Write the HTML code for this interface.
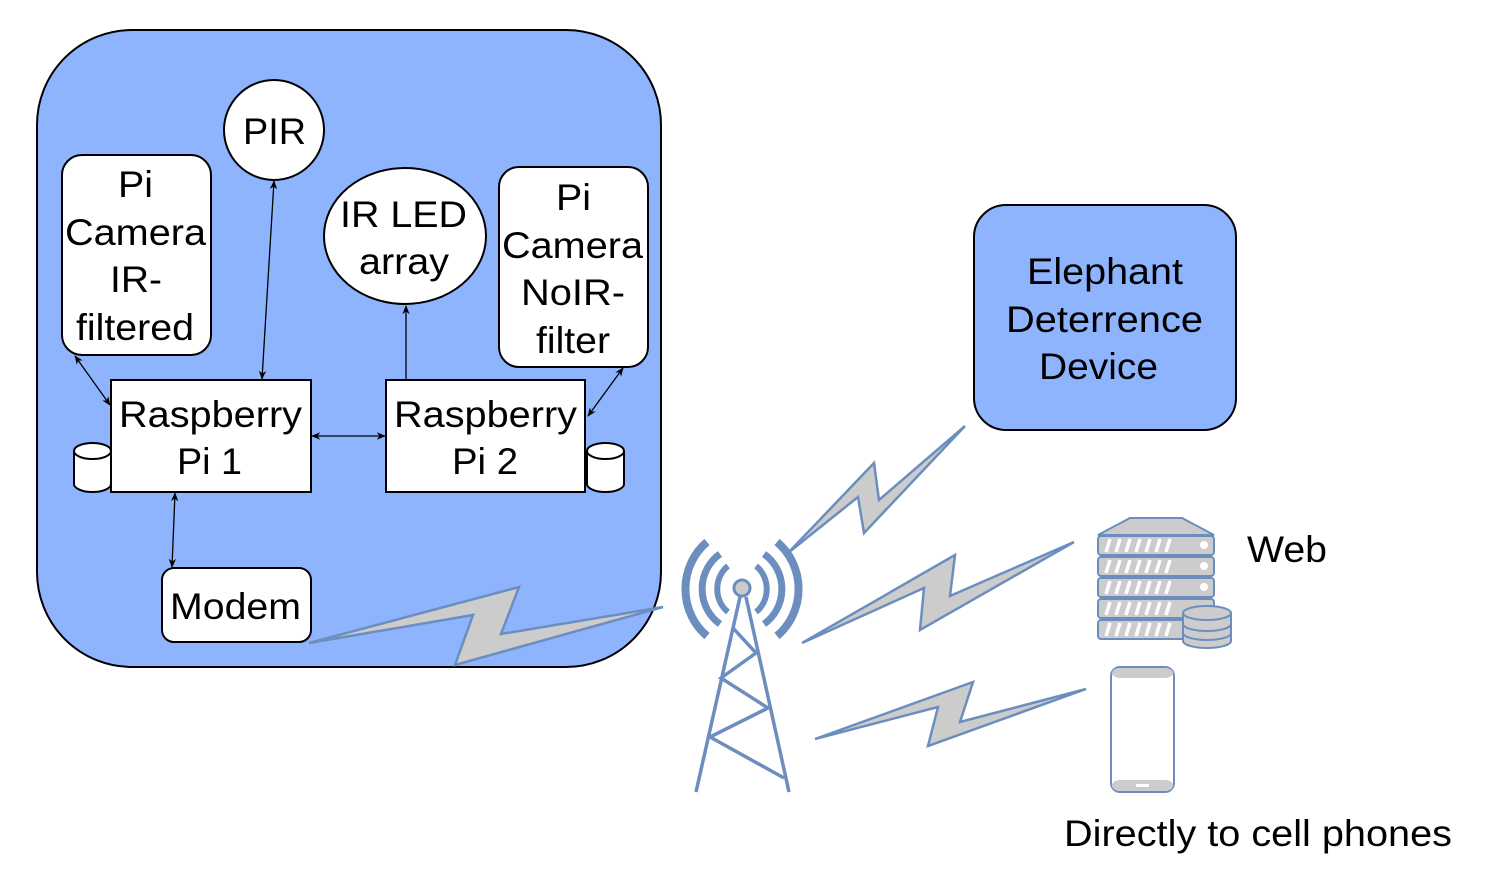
<!DOCTYPE html>
<html><head><meta charset="utf-8"><style>
html,body{margin:0;padding:0;background:#fff;}
svg{display:block;}
text{font-family:"Liberation Sans",Arial,sans-serif;fill:#000;}
</style></head><body>
<svg width="1486" height="890" viewBox="0 0 1486 890" xmlns="http://www.w3.org/2000/svg">
<defs>
<marker id="ar" viewBox="0 0 10 10" refX="9" refY="5" markerWidth="7" markerHeight="7" orient="auto-start-reverse">
<path d="M0,1 L10,5 L0,9 L3,5 Z" fill="#000"/>
</marker>
</defs>
<rect x="37" y="30" width="624" height="637" rx="95" fill="#8fb4fe" stroke="#000" stroke-width="2"/>

<g stroke="#000" stroke-width="1.3" fill="none">
<line x1="75" y1="356" x2="110" y2="405" marker-start="url(#ar)" marker-end="url(#ar)"/>
<line x1="274" y1="181" x2="262" y2="379" marker-start="url(#ar)" marker-end="url(#ar)"/>
<line x1="312" y1="436" x2="385" y2="436" marker-start="url(#ar)" marker-end="url(#ar)"/>
<line x1="406" y1="380" x2="406" y2="306" marker-end="url(#ar)"/>
<line x1="623" y1="368" x2="588" y2="416" marker-start="url(#ar)" marker-end="url(#ar)"/>
<line x1="175" y1="493" x2="172" y2="567" marker-start="url(#ar)" marker-end="url(#ar)"/>
</g>

<g stroke="#000" stroke-width="2" fill="#fff">
<circle cx="274" cy="130" r="50"/>
<rect x="62" y="155" width="149" height="200" rx="20"/>
<ellipse cx="405" cy="236" rx="81" ry="68"/>
<rect x="499" y="167" width="149" height="200" rx="20"/>
<rect x="111" y="380" width="200" height="112"/>
<rect x="386" y="380" width="199" height="112"/>
<rect x="162" y="568" width="149" height="74" rx="12"/>
<path d="M74,451 L74,484 A18.5,8 0 0 0 111,484 L111,451"/>
<ellipse cx="92.5" cy="451" rx="18.5" ry="8"/>
<path d="M587,451 L587,484 A18.5,8 0 0 0 624,484 L624,451"/>
<ellipse cx="605.5" cy="451" rx="18.5" ry="8"/>
</g>

<g font-size="37" lengthAdjust="spacingAndGlyphs">
<text x="243" y="144" textLength="63" lengthAdjust="spacingAndGlyphs">PIR</text>
<text x="118" y="197" textLength="35" lengthAdjust="spacingAndGlyphs">Pi</text>
<text x="65" y="245" textLength="141" lengthAdjust="spacingAndGlyphs">Camera</text>
<text x="110" y="292" textLength="52" lengthAdjust="spacingAndGlyphs">IR-</text>
<text x="76" y="340" textLength="118" lengthAdjust="spacingAndGlyphs">filtered</text>
<text x="340" y="227" textLength="127" lengthAdjust="spacingAndGlyphs">IR LED</text>
<text x="359" y="274" textLength="90" lengthAdjust="spacingAndGlyphs">array</text>
<text x="556" y="210" textLength="35" lengthAdjust="spacingAndGlyphs">Pi</text>
<text x="502" y="258" textLength="141" lengthAdjust="spacingAndGlyphs">Camera</text>
<text x="521" y="305" textLength="104" lengthAdjust="spacingAndGlyphs">NoIR-</text>
<text x="536" y="353" textLength="74" lengthAdjust="spacingAndGlyphs">filter</text>
<text x="119" y="427" textLength="183" lengthAdjust="spacingAndGlyphs">Raspberry</text>
<text x="177" y="474" textLength="65" lengthAdjust="spacingAndGlyphs">Pi 1</text>
<text x="394" y="427" textLength="183" lengthAdjust="spacingAndGlyphs">Raspberry</text>
<text x="452" y="474" textLength="66" lengthAdjust="spacingAndGlyphs">Pi 2</text>
<text x="170" y="619" textLength="131" lengthAdjust="spacingAndGlyphs">Modem</text>
</g>

<rect x="974" y="205" width="262" height="225" rx="32" fill="#8fb4fe" stroke="#000" stroke-width="2"/>
<g font-size="37">
<text x="1027" y="284" textLength="156" lengthAdjust="spacingAndGlyphs">Elephant</text>
<text x="1006" y="332" textLength="197" lengthAdjust="spacingAndGlyphs">Deterrence</text>
<text x="1039" y="379" textLength="119" lengthAdjust="spacingAndGlyphs">Device</text>
<text x="1247" y="562" textLength="80" lengthAdjust="spacingAndGlyphs">Web</text>
<text x="1064" y="846" textLength="388" lengthAdjust="spacingAndGlyphs">Directly to cell phones</text>
</g>

<g fill="#cccccc" stroke="#6c8ebf" stroke-width="2.5" stroke-linejoin="miter">
<polygon points="309,643 519,587 501,634 663,607 455,665 473,615"/>
<polygon points="788,553 874,463 879,500 965,426 864,533 858,497"/>
<polygon points="802,643 955,555 950,596 1074,542 920,630 924,588"/>
<polygon points="815,739 973,682 960,722 1086,689 928,746 938,707"/>
</g>

<g stroke="#6c8ebf" stroke-width="3.5" fill="none">
<line x1="740" y1="597" x2="696" y2="792"/>
<line x1="746" y1="597" x2="789" y2="792"/>
<polyline points="733,628 756,653 721,678 768,708 710,737 784,778"/>
</g>
<circle cx="742" cy="588" r="8" fill="#cccccc" stroke="#6c8ebf" stroke-width="3"/>
<g stroke="#6c8ebf" fill="none">
<path d="M728,566 A25,28 0 0 0 728,612" stroke-width="6"/>
<path d="M756,566 A25,28 0 0 1 756,612" stroke-width="6"/>
<path d="M720,554 A40,42 0 0 0 720,624" stroke-width="7"/>
<path d="M764,554 A40,42 0 0 1 764,624" stroke-width="7"/>
<path d="M707,542 A57,60 0 0 0 707,636" stroke-width="8"/>
<path d="M777,542 A57,60 0 0 1 777,636" stroke-width="8"/>
</g>

<g stroke="#6c8ebf" stroke-width="2" fill="#cccccc">
<polygon points="1130,518 1182,518 1214,535 1098,535"/>
<rect x="1098" y="536" width="116" height="19" rx="3"/>
<rect x="1098" y="557" width="116" height="19" rx="3"/>
<rect x="1098" y="578" width="116" height="19" rx="3"/>
<rect x="1098" y="599" width="116" height="19" rx="3"/>
<rect x="1098" y="620" width="116" height="19" rx="3"/>
</g>
<g stroke="#fff" stroke-width="3.5">
<path d="M1106,552 l4,-13 M1116,552 l4,-13 M1126,552 l4,-13 M1136,552 l4,-13 M1146,552 l4,-13 M1156,552 l4,-13 M1166,552 l4,-13"/>
<path d="M1106,573 l4,-13 M1116,573 l4,-13 M1126,573 l4,-13 M1136,573 l4,-13 M1146,573 l4,-13 M1156,573 l4,-13 M1166,573 l4,-13"/>
<path d="M1106,594 l4,-13 M1116,594 l4,-13 M1126,594 l4,-13 M1136,594 l4,-13 M1146,594 l4,-13 M1156,594 l4,-13 M1166,594 l4,-13"/>
<path d="M1106,615 l4,-13 M1116,615 l4,-13 M1126,615 l4,-13 M1136,615 l4,-13 M1146,615 l4,-13 M1156,615 l4,-13 M1166,615 l4,-13"/>
<path d="M1106,636 l4,-13 M1116,636 l4,-13 M1126,636 l4,-13 M1136,636 l4,-13 M1146,636 l4,-13 M1156,636 l4,-13 M1166,636 l4,-13"/>
</g>
<g fill="#fff"><circle cx="1204" cy="545" r="4"/><circle cx="1204" cy="566" r="4"/><circle cx="1204" cy="587" r="4"/></g>
<g stroke="#6c8ebf" stroke-width="2" fill="#cccccc">
<path d="M1183,613 L1183,641 A24,7 0 0 0 1231,641 L1231,613"/>
<ellipse cx="1207" cy="613" rx="24" ry="7"/>
<path d="M1183,624 A24,7 0 0 0 1231,624" fill="none"/>
<path d="M1183,633 A24,7 0 0 0 1231,633" fill="none"/>
</g>

<rect x="1111" y="667" width="63" height="125" rx="9" fill="#fff" stroke="#6c8ebf" stroke-width="2"/>
<rect x="1112" y="668" width="61" height="10" rx="8" fill="#cccccc"/>
<rect x="1112" y="780" width="61" height="11" rx="8" fill="#cccccc"/>
<rect x="1136" y="784" width="13" height="3" fill="#fff"/>
</svg>
</body></html>
